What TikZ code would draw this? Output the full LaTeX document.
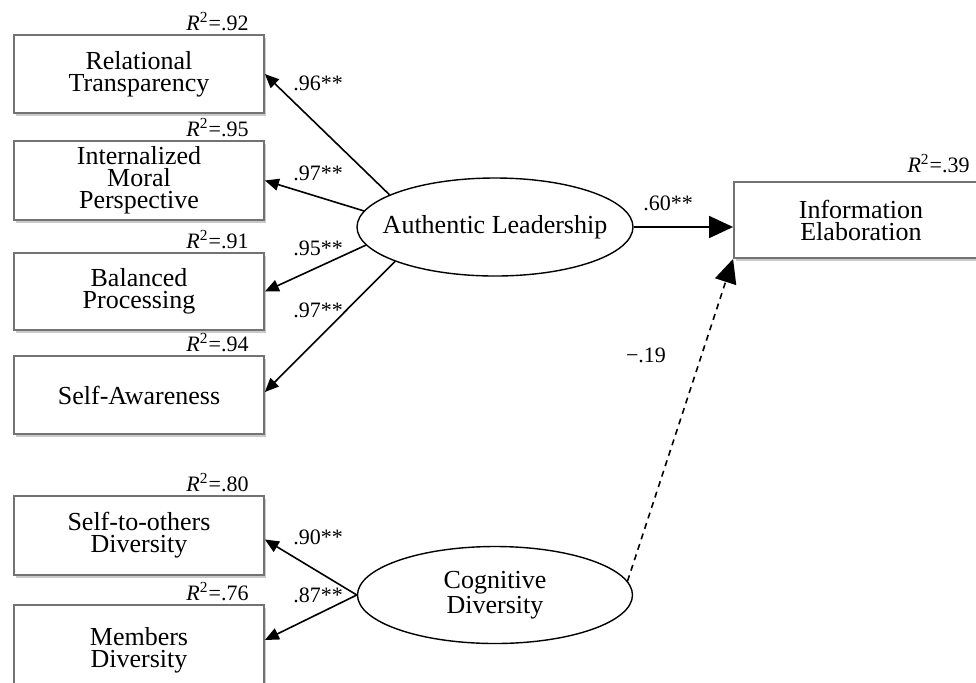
\documentclass[tikz,border=0pt]{standalone}
\usepackage{fontspec}
\setmainfont{Liberation Serif}
\usetikzlibrary{shapes.geometric,arrows.meta,shadows}
\begin{document}
\begin{tikzpicture}[x=0.5pt,y=-0.5pt,
  box/.style={draw=black!55, line width=0.9pt, fill=white, minimum width=125pt, inner sep=0pt, align=center,
    font=\fontsize{13}{11}\selectfont,
    drop shadow={shadow xshift=1pt, shadow yshift=-1.5pt, opacity=0.35, fill=black!60}},
  latent/.style={draw, ellipse, line width=0.7pt, minimum width=138pt, minimum height=49pt, inner sep=0pt},
  lbl/.style={font=\fontsize{11}{13}\selectfont, inner sep=0pt},
  rsq/.style={font=\fontsize{11}{13}\selectfont, inner sep=0pt, anchor=base east},
  ld/.style={line width=0.8pt, -{Triangle[length=7pt,width=6pt]}},
  bigld/.style={line width=0.8pt, -{Triangle[length=12pt,width=11pt]}},
]
\useasboundingbox (0,0) rectangle (976,682);
\clip (0,0) rectangle (976,682);

% indicator boxes
\node[box, minimum height=39pt] (rt) at (139,74) {Relational\\Transparency};
\node[box, minimum height=39.5pt] (imp) at (139,180.5) {Internalized\\Moral\\Perspective};
\node[box, minimum height=38.5pt] (bp) at (139,291.5) {Balanced\\Processing};
\node[box, minimum height=39pt] (sa) at (139,395) {Self-Awareness};
\node[box, minimum height=39.5pt] (sto) at (139,535.5) {Self-to-others\\Diversity};
\node[box, minimum height=45pt] (md) at (139,650) {Members\\Diversity};
\node[box, minimum width=127pt, minimum height=38pt] (ie) at (861,220) {Information\\Elaboration};

% R squared labels
\node[rsq] (r2rt) at ([xshift=-8pt,yshift=2pt]rt.north east) {\textit{R}\textsuperscript{2}=.92};
\node[rsq] (r2imp) at ([xshift=-8pt,yshift=2pt]imp.north east) {\textit{R}\textsuperscript{2}=.95};
\node[rsq] (r2bp) at ([xshift=-8pt,yshift=2pt]bp.north east) {\textit{R}\textsuperscript{2}=.91};
\node[rsq] (r2sa) at ([xshift=-8pt,yshift=2pt]sa.north east) {\textit{R}\textsuperscript{2}=.94};
\node[rsq] (r2sto) at ([xshift=-8pt,yshift=2pt]sto.north east) {\textit{R}\textsuperscript{2}=.80};
\node[rsq] (r2md) at ([xshift=-8pt,yshift=2pt]md.north east) {\textit{R}\textsuperscript{2}=.76};
\node[rsq] (r2ie) at (970,172) {\textit{R}\textsuperscript{2}=.39};

% latent variables
\node[latent, label={[font=\fontsize{13}{11}\selectfont]center:Authentic Leadership}] (al) at (495,227) {};
\node[latent, minimum width=137.5pt, minimum height=48.5pt,
  label={[font=\fontsize{13}{11}\selectfont, align=center]center:{Cognitive\\Diversity}}] (cd) at (495,595) {};

% loadings
\draw[ld] (al.163) -- (rt.east);
\draw[ld] (al.173) -- (imp.east);
\draw[ld] (al.188) -- (bp.east);
\draw[ld] (al.199) -- ([yshift=1.5pt]sa.east);
\draw[ld] (cd.west) -- ([yshift=-2pt]sto.east);
\draw[ld] (cd.west) -- ([yshift=5pt]md.east);

% structural paths
\draw[bigld] (al.east) -- (al.east -| ie.west);
\draw[bigld, dash pattern=on 3pt off 2.5pt] (cd.6) -- (ie.south west);

% path labels
\node[lbl] (l1) at (318,83) {.96**};
\node[lbl] (l2) at (318,173) {.97**};
\node[lbl] (l3) at (318,248) {.95**};
\node[lbl] (l4) at (318,310) {.97**};
\node[lbl] (l5) at (318,537) {.90**};
\node[lbl] (l6) at (318,595) {.87**};
\node[lbl] (l7) at (668,203) {.60**};
\node[lbl] (l8) at (646,355) {−.19};
\end{tikzpicture}
\end{document}
